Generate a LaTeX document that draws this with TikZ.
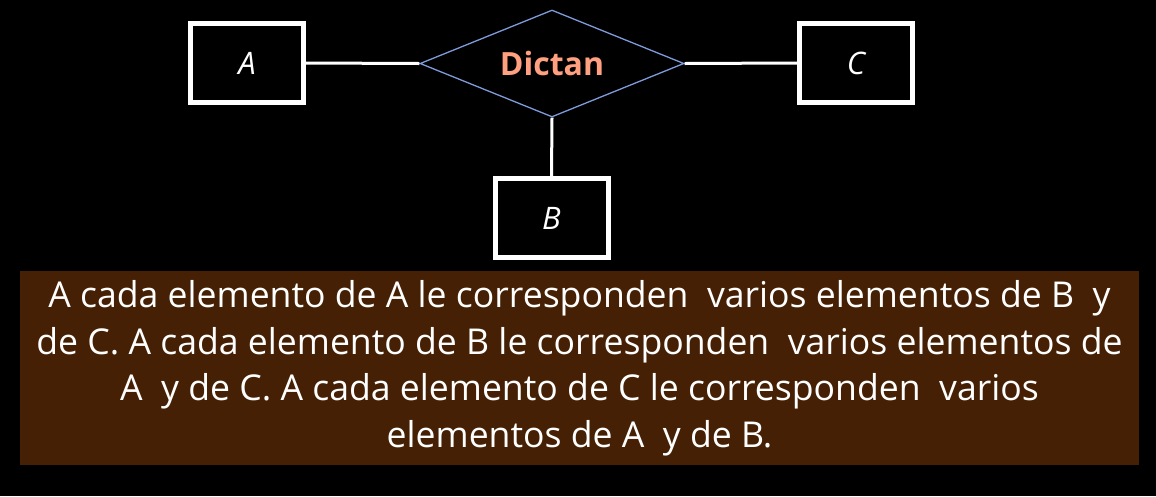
\documentclass[tikz,border=0pt]{standalone}
\usepackage{fontspec}
\setmainfont{Open Sans}
\usetikzlibrary{shapes.geometric}
\definecolor{bluish}{RGB}{127,155,220}
\definecolor{salmon}{RGB}{255,160,128}
\definecolor{brownbox}{RGB}{69,32,4}
\begin{document}
\begin{tikzpicture}[x=1pt,y=-1pt,
  entity/.style={draw=white,line width=5pt,fill=black,minimum width=113pt,minimum height=79pt,inner sep=0pt,text=white,font=\fontsize{31}{34}\selectfont\itshape},
  rel/.style={draw=bluish,line width=1.3pt,diamond,minimum width=264pt,minimum height=107pt,aspect=2.47,inner sep=0pt,font=\fontsize{32}{34}\selectfont\bfseries,text=salmon},
  conn/.style={draw=white,line width=3pt}]
\fill[black] (0,0) rectangle (1156,496);
\useasboundingbox (0,0) rectangle (1156,496);
\node[entity] (A) at (247,63) {A};
\node[entity] (C) at (856,63) {C};
\node[entity] (B) at (551.5,218) {B};
\node[rel] (D) at (552,63.5) {Dictan};
\draw[conn] (A.east) -- (D.west);
\draw[conn] (D.east) -- (C.west);
\draw[conn] (D.south) -- (B.north);
\node[fill=brownbox,minimum width=1119pt,minimum height=194pt,inner sep=0pt,text=white,align=center,font=\fontsize{35.6}{46.5}\selectfont] (T) at (579.5,368)
{A cada elemento de A le corresponden\ \ varios elementos de B\ \ y\\
de C. A cada elemento de B le corresponden\ \ varios elementos de\\
A\ \ y de C. A cada elemento de C le corresponden\ \ varios\\
elementos de A\ \ y de B.};
\end{tikzpicture}
\end{document}
